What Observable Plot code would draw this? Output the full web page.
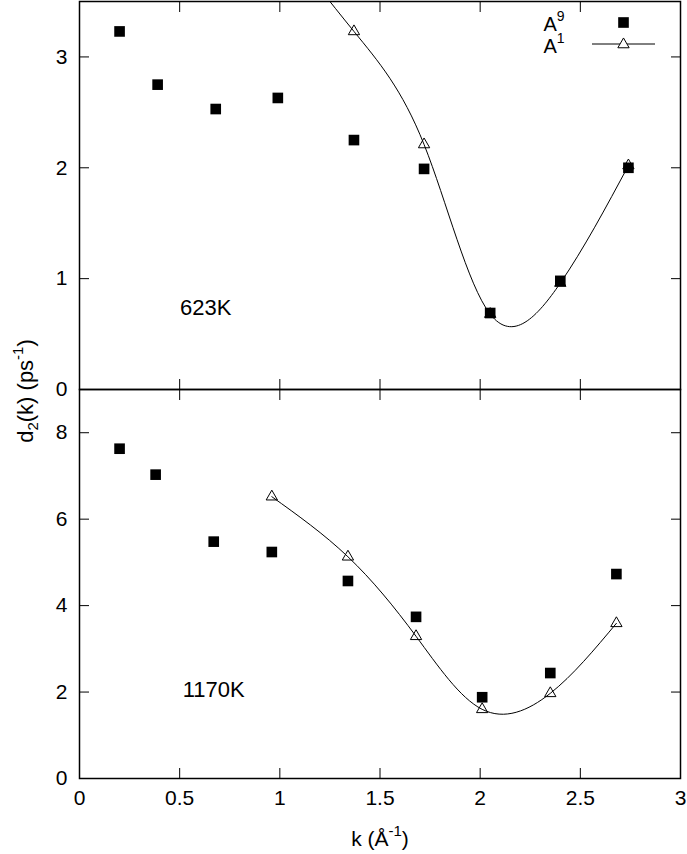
<!DOCTYPE html>
<html><head><meta charset="utf-8">
<script src="https://cdn.jsdelivr.net/npm/d3@7"></script>
<script src="https://cdn.jsdelivr.net/npm/@observablehq/plot@0.6"></script>
<style>
body{margin:0;background:#fff;font-family:"Liberation Sans",Arial,sans-serif;}
#wrap{position:relative;width:687px;height:854px;background:#fff;}
#wrap svg{display:block;overflow:visible;}
.lab{position:absolute;font-size:21px;white-space:nowrap;line-height:1;color:#000;}
.lab sub{font-size:15px;vertical-align:-5px;line-height:0;}
.lab sup{font-size:15px;vertical-align:10px;line-height:0;}
</style></head><body><div id="wrap"></div>
<script>
// ---- data ----
const xTicks = [0, 0.5, 1, 1.5, 2, 2.5, 3];
const xTickLabels = ["0", "0.5", "1", "1.5", "2", "2.5", "3"];

// 623 K panel
const k9_623 = [0.20, 0.39, 0.68, 0.99, 1.37, 1.72, 2.05, 2.40, 2.74];
const d9_623 = [3.23, 2.75, 2.53, 2.63, 2.25, 1.99, 0.69, 0.98, 2.00];
const k1_623 = [0.99, 1.37, 1.72, 2.05, 2.40, 2.74];
const d1_623 = [4.10, 3.23, 2.21, 0.68, 0.96, 2.02];
const yTicks_623 = [0, 1, 2, 3];

// 1170 K panel
const k9_1170 = [0.20, 0.38, 0.67, 0.96, 1.34, 1.68, 2.01, 2.35, 2.68];
const d9_1170 = [7.63, 7.03, 5.48, 5.24, 4.57, 3.74, 1.88, 2.44, 4.73];
const k1_1170 = [0.96, 1.34, 1.68, 2.01, 2.35, 2.68];
const d1_1170 = [6.52, 5.13, 3.29, 1.60, 1.97, 3.59];
const yTicks_1170 = [0, 2, 4, 6, 8];

const FONT = "'Liberation Sans', Arial, sans-serif";

function panel({k9, d9, k1, d1, yDomain, yTicks, height, marginTop, marginBottom, label, bottomLabels, legend}) {
  const sq = k9.map((k, i) => ({k, d: d9[i]}));
  const tr = k1.map((k, i) => ({k, d: d1[i]}));
  const marks = [
    Plot.line(tr, {x: "k", y: "d", curve: "natural", stroke: "black", strokeWidth: 1, clip: true}),
    Plot.dot(tr, {x: "k", y: "d", symbol: "triangle", stroke: "black", fill: "none", r: 4.2, strokeWidth: 1, clip: true}),
    Plot.dot(sq, {x: "k", y: "d", symbol: "square", fill: "black", stroke: "none", r: 6}),
    Plot.axisY({ticks: yTicks, anchor: "left", tickSize: 0, tickPadding: 12, label: null, fontSize: 21, tickFormat: (d) => String(d)}),
    Plot.axisY({ticks: yTicks, anchor: "left", tickSize: -10, tickFormat: () => "", label: null}),
    Plot.axisY({ticks: yTicks, anchor: "right", tickSize: -10, tickFormat: () => "", label: null}),
    Plot.axisX({ticks: xTicks, anchor: "top", tickSize: -10, tickFormat: () => "", label: null}),
    Plot.axisX({ticks: xTicks, anchor: "bottom", tickSize: -10, tickFormat: () => "", label: null}),
    Plot.frame({stroke: "black", strokeWidth: 1.5}),
    Plot.text([label], {x: "k", y: "d", text: "t", fontSize: 22, textAnchor: "middle"})
  ];
  if (bottomLabels) {
    marks.push(Plot.axisX({ticks: xTicks, anchor: "bottom", tickSize: 0, tickPadding: 12, label: null, fontSize: 21,
      tickFormat: (d) => xTickLabels[xTicks.indexOf(d)]}));
  }
  if (legend) {
    marks.push(Plot.dot([0], {frameAnchor: "top-right", dx: -57, dy: 21, symbol: "square", fill: "black", r: 6}));
    marks.push((index, scales, values, dims) => {
      const xr = dims ? dims.width - dims.marginRight : 680;
      const yt = dims ? dims.marginTop : 1;
      const g = d3.create("svg:g").attr("font-family", FONT).attr("font-size", 20).attr("fill", "black");
      legend.forEach((s, i) => {
        const t = g.append("text").attr("x", xr - 126).attr("y", yt + 30 + i * 22);
        t.append("tspan").text(s.base);
        t.append("tspan").attr("font-size", 14).attr("dy", -10).text(s.sup);
      });
      g.append("line").attr("x1", xr - 88).attr("x2", xr - 25).attr("y1", yt + 43).attr("y2", yt + 43)
        .attr("stroke", "black").attr("stroke-width", 1);
      return g.node();
    });
    marks.push(Plot.dot([0], {frameAnchor: "top-right", dx: -57, dy: 43, symbol: "triangle", stroke: "black", fill: "white", r: 4.2, strokeWidth: 1}));
  }
  return Plot.plot({
    width: 687, height, marginLeft: 79, marginRight: 7, marginTop, marginBottom,
    style: {fontFamily: FONT, fontSize: "21px", color: "black", background: "transparent", overflow: "visible"},
    x: {domain: [0, 3]},
    y: {domain: yDomain},
    marks
  });
}

const wrap = document.getElementById("wrap");
wrap.append(panel({
  k9: k9_623, d9: d9_623, k1: k1_623, d1: d1_623, yDomain: [0, 3.5], yTicks: yTicks_623,
  height: 389, marginTop: 1, marginBottom: 0,
  label: {k: 0.63, d: 0.74, t: "623K"},
  legend: [{base: "A", sup: "9"}, {base: "A", sup: "1"}]
}));
wrap.append(panel({
  k9: k9_1170, d9: d9_1170, k1: k1_1170, d1: d1_1170, yDomain: [0, 9], yTicks: yTicks_1170,
  height: 465, marginTop: 0, marginBottom: 76,
  label: {k: 0.67, d: 2.04, t: "1170K"},
  bottomLabels: true
}));

const yl = document.createElement("div");
yl.className = "lab";
yl.style.fontSize = "22px";
yl.style.left = "26px"; yl.style.top = "391px";
yl.style.transform = "translate(-50%,-50%) rotate(-90deg)";
yl.innerHTML = "d<sub>2</sub>(k) (ps<sup>-1</sup>)";
wrap.append(yl);

const xl = document.createElement("div");
xl.className = "lab";
xl.style.left = "380px"; xl.style.top = "838px";
xl.style.transform = "translate(-50%,-50%)";
xl.innerHTML = "k (Å<sup>-1</sup>)";
wrap.append(xl);
</script>
</body></html>
